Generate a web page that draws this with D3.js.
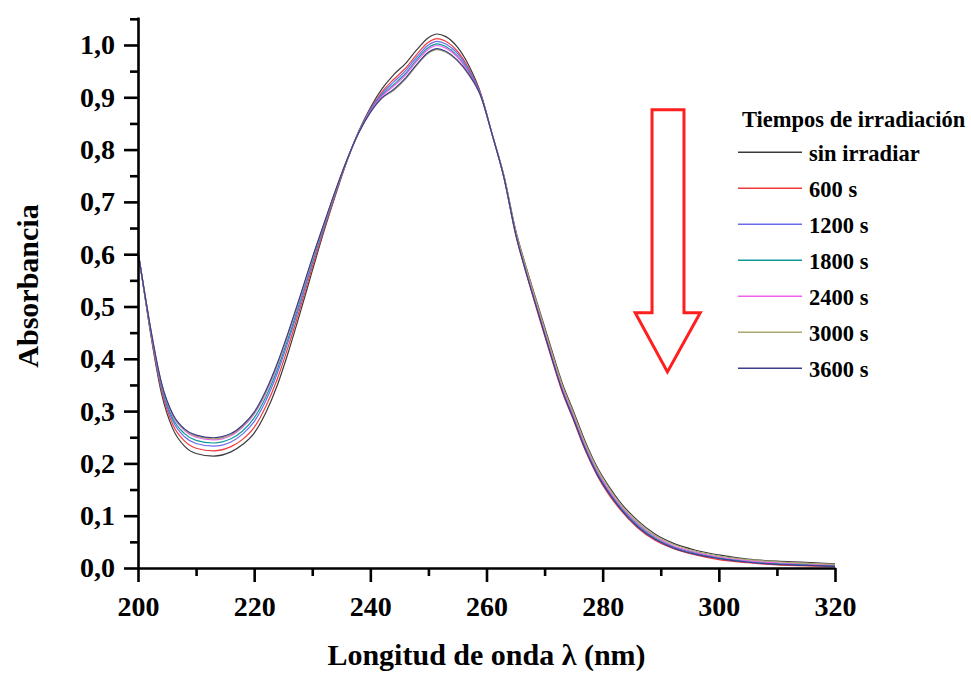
<!DOCTYPE html>
<html>
<head>
<meta charset="utf-8">
<script src="https://cdn.jsdelivr.net/npm/d3@7"></script>
<style>
  html, body { margin: 0; padding: 0; background: #fff; }
  svg { display: block; }
  text { font-family: "Liberation Serif", "Times New Roman", serif; font-weight: bold; fill: #000; }
</style>
</head>
<body>
<script>
// UV absorption spectra recorded after successive irradiation times
const wavelengths = [200, 201, 202, 204, 206, 208, 210, 213, 216, 218, 220, 222, 224, 226, 228, 230, 232, 234, 236, 238,
  240, 242, 244, 246, 248, 250, 251.5, 253, 255, 257, 259, 261, 263, 265, 267, 269, 271, 273, 275, 277,
  279, 281, 283, 286, 289, 292, 296, 300, 305, 310, 315, 320];

const seriesNames = ["sin irradiar", "600 s", "1200 s", "1800 s", "2400 s", "3000 s", "3600 s"];
const seriesColors = ["#3a3a3a", "#f03c3c", "#6b6bf0", "#109a9a", "#f060f0", "#a8a870", "#3c3c8c"];

const absSinIrradiar = [0.605, 0.533, 0.460, 0.336, 0.266, 0.233, 0.219, 0.214, 0.222, 0.236, 0.258, 0.297, 0.350, 0.417, 0.491, 0.568, 0.643, 0.713, 0.779, 0.835,
  0.880, 0.916, 0.943, 0.964, 0.991, 1.014, 1.021, 1.016, 0.996, 0.960, 0.908, 0.828, 0.750, 0.647, 0.569, 0.497, 0.425, 0.355, 0.299, 0.242,
  0.194, 0.157, 0.126, 0.091, 0.065, 0.048, 0.034, 0.025, 0.017, 0.013, 0.011, 0.008];
const abs600 = [0.605, 0.534, 0.462, 0.342, 0.274, 0.243, 0.229, 0.224, 0.232, 0.246, 0.269, 0.309, 0.362, 0.428, 0.500, 0.575, 0.647, 0.715, 0.779, 0.834,
  0.877, 0.910, 0.934, 0.955, 0.982, 1.005, 1.012, 1.007, 0.988, 0.954, 0.906, 0.828, 0.746, 0.638, 0.557, 0.481, 0.408, 0.338, 0.282, 0.225,
  0.178, 0.141, 0.112, 0.077, 0.053, 0.038, 0.025, 0.016, 0.010, 0.006, 0.004, 0.003];
const abs1200 = [0.605, 0.535, 0.465, 0.347, 0.281, 0.251, 0.238, 0.233, 0.241, 0.256, 0.280, 0.320, 0.373, 0.438, 0.508, 0.582, 0.651, 0.718, 0.780, 0.833,
  0.876, 0.907, 0.929, 0.950, 0.977, 1.000, 1.007, 1.002, 0.984, 0.951, 0.905, 0.828, 0.747, 0.641, 0.560, 0.486, 0.413, 0.343, 0.287, 0.230,
  0.183, 0.146, 0.116, 0.081, 0.056, 0.041, 0.028, 0.019, 0.012, 0.008, 0.006, 0.004];
const abs1800 = [0.605, 0.535, 0.466, 0.350, 0.286, 0.257, 0.244, 0.239, 0.247, 0.262, 0.287, 0.327, 0.380, 0.444, 0.514, 0.586, 0.654, 0.719, 0.780, 0.833,
  0.874, 0.904, 0.924, 0.945, 0.972, 0.995, 1.002, 0.997, 0.979, 0.948, 0.904, 0.828, 0.748, 0.642, 0.562, 0.488, 0.415, 0.345, 0.289, 0.232,
  0.185, 0.148, 0.118, 0.083, 0.058, 0.042, 0.029, 0.020, 0.013, 0.009, 0.007, 0.005];
const abs2400 = [0.605, 0.536, 0.468, 0.354, 0.291, 0.263, 0.250, 0.245, 0.253, 0.269, 0.294, 0.334, 0.387, 0.451, 0.519, 0.590, 0.657, 0.721, 0.781, 0.832,
  0.873, 0.902, 0.921, 0.942, 0.969, 0.992, 0.999, 0.994, 0.977, 0.946, 0.904, 0.828, 0.749, 0.643, 0.564, 0.490, 0.417, 0.347, 0.291, 0.234,
  0.187, 0.150, 0.120, 0.085, 0.060, 0.043, 0.030, 0.021, 0.014, 0.010, 0.008, 0.006];
const abs3000 = [0.605, 0.536, 0.468, 0.355, 0.293, 0.264, 0.252, 0.247, 0.255, 0.271, 0.296, 0.336, 0.389, 0.453, 0.521, 0.591, 0.657, 0.721, 0.781, 0.832,
  0.871, 0.898, 0.913, 0.934, 0.961, 0.984, 0.991, 0.986, 0.969, 0.942, 0.902, 0.828, 0.750, 0.645, 0.567, 0.494, 0.421, 0.351, 0.295, 0.238,
  0.191, 0.154, 0.123, 0.088, 0.062, 0.046, 0.032, 0.023, 0.016, 0.012, 0.009, 0.007];
const abs3600 = [0.605, 0.536, 0.469, 0.356, 0.294, 0.266, 0.254, 0.249, 0.257, 0.273, 0.298, 0.339, 0.392, 0.455, 0.523, 0.593, 0.658, 0.722, 0.781, 0.832,
  0.871, 0.899, 0.915, 0.936, 0.963, 0.986, 0.993, 0.988, 0.971, 0.943, 0.903, 0.828, 0.747, 0.640, 0.558, 0.484, 0.410, 0.340, 0.284, 0.227,
  0.180, 0.144, 0.114, 0.079, 0.055, 0.039, 0.026, 0.018, 0.011, 0.007, 0.005, 0.003];

const seriesValues = [absSinIrradiar, abs600, abs1200, abs1800, abs2400, abs3000, abs3600];

const xMajorTicks = [200, 220, 240, 260, 280, 300, 320];
const xMinorTicks = [210, 230, 250, 270, 290, 310];
const yMajorTicks = [0, 0.1, 0.2, 0.3, 0.4, 0.5, 0.6, 0.7, 0.8, 0.9, 1.0];
const yMinorTicks = [0.05, 0.15, 0.25, 0.35, 0.45, 0.55, 0.65, 0.75, 0.85, 0.95, 1.05];

const xTitle = "Longitud de onda \u03bb (nm)";
const yTitle = "Absorbancia";
const legendTitle = "Tiempos de irradiaci\u00f3n";

const width = 971, height = 674;
const svg = d3.select("body").append("svg").attr("width", width).attr("height", height);

const x = d3.scaleLinear().domain([200, 320]).range([138, 835]);
const y = d3.scaleLinear().domain([0, 1.0535]).range([568, 17]);

const commaFmt = d => d3.format(".1f")(d).replace(".", ",");

// spectra
const line = d3.line()
  .x((d, i) => x(wavelengths[i]))
  .y(d => y(d))
  .curve(d3.curveMonotoneX);

svg.append("g").attr("class", "spectra")
  .selectAll("path")
  .data(seriesValues)
  .join("path")
  .attr("d", line)
  .attr("fill", "none")
  .attr("stroke", (d, i) => seriesColors[i])
  .attr("stroke-width", 1.2);

// axes
function styleAxis(g) {
  g.selectAll("path.domain").attr("stroke", "#000").attr("stroke-width", 2.6);
  g.selectAll(".tick line").attr("stroke", "#000").attr("stroke-width", 2.6);
  g.selectAll("text").attr("font-size", 28).attr("font-family", '"Liberation Serif", "Times New Roman", serif')
    .attr("font-weight", "bold").attr("fill", "#000");
}

svg.append("g")
  .attr("transform", `translate(0,${y(0)})`)
  .call(d3.axisBottom(x).tickValues(xMinorTicks).tickSize(8).tickSizeOuter(0).tickFormat(""))
  .call(g => g.select(".domain").remove())
  .call(styleAxis);

svg.append("g")
  .attr("transform", `translate(${x(200)},0)`)
  .call(d3.axisLeft(y).tickValues(yMinorTicks).tickSize(8).tickSizeOuter(0).tickFormat(""))
  .call(g => g.select(".domain").remove())
  .call(styleAxis);

svg.append("g")
  .attr("transform", `translate(0,${y(0)})`)
  .call(d3.axisBottom(x).tickValues(xMajorTicks).tickSize(14).tickSizeOuter(0).tickPadding(14).tickFormat(d3.format("d")))
  .call(styleAxis);

svg.append("g")
  .attr("transform", `translate(${x(200)},0)`)
  .call(d3.axisLeft(y).tickValues(yMajorTicks).tickSize(14).tickSizeOuter(0).tickPadding(9).tickFormat(commaFmt))
  .call(styleAxis);

// axis titles
svg.append("text")
  .attr("x", (x(200) + x(320)) / 2)
  .attr("y", 665)
  .attr("text-anchor", "middle")
  .attr("font-size", 30)
  .text(xTitle);

svg.append("text")
  .attr("transform", `translate(38,${286}) rotate(-90)`)
  .attr("text-anchor", "middle")
  .attr("font-size", 30)
  .text(yTitle);

// arrow showing the direction of change with irradiation time
const arrowPts = [
  [288.5, 0.876], [294.0, 0.876], [294.0, 0.488], [296.8, 0.488],
  [291.15, 0.375], [285.6, 0.488], [288.5, 0.488]
];
svg.append("path")
  .attr("d", d3.line().x(p => x(p[0])).y(p => y(p[1])).curve(d3.curveLinearClosed)(arrowPts))
  .attr("fill", "none")
  .attr("stroke", "#ff1f1f")
  .attr("stroke-width", 3)
  .attr("stroke-linejoin", "miter");

// legend
const legend = svg.append("g").attr("class", "legend");
legend.append("text")
  .attr("x", 742).attr("y", 127)
  .attr("font-size", 22.5)
  .text(legendTitle);

const rows = legend.selectAll("g.row")
  .data(seriesNames)
  .join("g")
  .attr("class", "row")
  .attr("transform", (d, i) => `translate(0,${152.3 + i * 36})`);

rows.append("line")
  .attr("x1", 738).attr("x2", 802)
  .attr("y1", 0).attr("y2", 0)
  .attr("stroke", (d, i) => seriesColors[i])
  .attr("stroke-width", 1.4);

rows.append("text")
  .attr("x", 809).attr("y", 9)
  .attr("font-size", 22.5)
  .text(d => d);
</script>
</body>
</html>
